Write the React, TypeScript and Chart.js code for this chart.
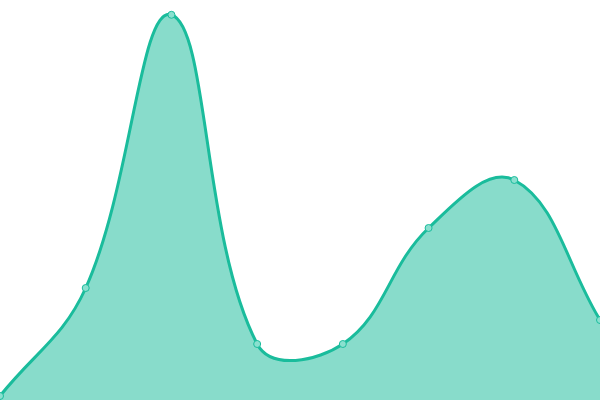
import React, { useEffect, useRef } from "react";
import { Chart, registerables } from "chart.js";

Chart.register(...registerables);

const categories = ["A", "B", "C", "D", "E", "F", "G", "H"];
const values = [1, 28, 96.3, 14, 14, 43, 55, 20];

export default function App() {
  const ref = useRef<HTMLCanvasElement | null>(null);
  useEffect(() => {
    if (!ref.current) return;
    const chart = new Chart(ref.current, {
      type: "line",
      data: {
        labels: categories,
        datasets: [
          {
            data: values,
            borderColor: "#1abc9c",
            backgroundColor: "rgba(26,188,156,0.52)",
            borderWidth: 3,
            fill: "origin",
            tension: 0.4,
            pointRadius: 3.5,
            pointBorderWidth: 1,
            pointBackgroundColor: "#8ae0cf",
            pointBorderColor: "#1abc9c",
          },
        ],
      },
      options: {
        animation: false,
        responsive: true,
        maintainAspectRatio: false,
        layout: { padding: 0, autoPadding: false },
        plugins: { legend: { display: false }, tooltip: { enabled: false } },
        scales: {
          x: { display: false },
          y: { display: false, min: 0, max: 100 },
        },
      },
    });
    return () => chart.destroy();
  }, []);
  return (
    <div style={{ position: "fixed", left: 0, top: 0, width: 600, height: 400 }}>
      <canvas ref={ref} />
    </div>
  );
}
